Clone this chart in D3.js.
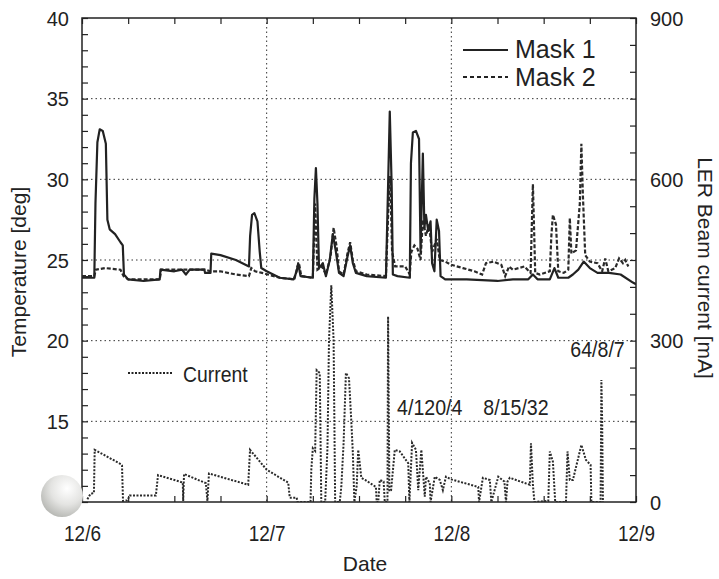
<!DOCTYPE html>
<html>
<head>
<meta charset="utf-8">
<script src="https://cdn.jsdelivr.net/npm/d3@7"></script>
<style>
  body { margin: 0; background: #fff; }
  svg text { font-family: "Liberation Sans", Arial, sans-serif; fill: #222; }
</style>
</head>
<body>
<div id="chart"></div>
<script>
// x values are hours since 12/6 00:00
var dateLabels = ["12/6", "12/7", "12/8", "12/9"];
var dateTicks = [0, 24, 48, 72];
var tempTicks = [10, 15, 20, 25, 30, 35, 40];
var currentTicks = [0, 300, 600, 900];

var mask1 = [[0,23.9],[1.6,23.9],[1.75,28.5],[2.0,32.3],[2.3,33.1],[2.7,33.0],[3.1,32.2],[3.3,27.5],[3.6,26.9],[4.3,26.6],[5.0,26.1],[5.3,25.9],[5.45,24.1],[6,23.8],[8,23.7],[10.1,23.8],[10.2,24.4],[12,24.3],[13,24.4],[13.5,24.1],[14,24.4],[15.9,24.4],[16.0,24.2],[16.7,24.2],[16.8,25.4],[18,25.3],[20,25.0],[21.7,24.6],[21.85,26.5],[22.1,27.8],[22.4,27.9],[22.8,27.4],[23.1,25.5],[23.3,24.5],[24,24.3],[25.7,23.9],[27.5,23.8],[27.9,24.3],[28.1,24.8],[28.4,24.0],[30.0,23.9],[30.2,28.8],[30.4,30.7],[30.6,28.5],[30.8,24.5],[31.3,24.8],[31.7,24.0],[32.2,25.0],[32.6,26.6],[33.0,25.5],[33.4,24.2],[34.0,24.0],[34.5,25.2],[34.85,25.9],[35.2,24.8],[35.6,24.2],[37,24.0],[39.5,23.9],[39.75,29.0],[40.0,34.2],[40.25,29.5],[40.4,24.1],[41,24.0],[42.6,23.9],[42.75,31.0],[43.0,32.9],[43.4,33.0],[43.8,32.5],[44.0,25.5],[44.3,31.6],[44.5,27.0],[44.7,27.8],[45.0,26.8],[45.3,27.4],[45.5,24.8],[45.8,24.3],[46.1,27.5],[46.4,26.8],[46.6,24.0],[47.2,23.8],[50,23.8],[54,23.7],[56,23.8],[58,23.8],[58.6,24.1],[59.2,23.8],[60.8,23.8],[61.4,24.5],[61.9,23.9],[63.2,23.9],[63.8,24.1],[64.5,24.4],[65.2,24.9],[66,24.5],[67,24.2],[68.5,24.2],[70,24.1],[71.6,23.6],[72,23.5]];

var mask2 = [[0,24.0],[1.6,24.0],[1.8,24.4],[3,24.5],[5.0,24.4],[5.4,24.0],[6,23.8],[10.1,23.8],[10.3,24.4],[16,24.4],[16.7,24.3],[18,24.3],[20,24.1],[21.7,24.0],[22.0,24.5],[22.5,24.3],[23.4,24.2],[25.7,23.9],[27.6,23.8],[28.0,24.6],[28.2,24.8],[28.5,24.0],[30.0,23.9],[30.3,28.5],[30.6,24.4],[31.2,24.6],[31.7,24.1],[32.3,25.2],[32.7,27.0],[33.1,25.8],[33.4,24.3],[34.0,24.1],[34.5,25.4],[34.85,26.1],[35.2,25.0],[35.6,24.3],[37,24.1],[39.5,24.0],[39.8,28.0],[40.05,30.2],[40.3,25.5],[40.7,24.6],[42.0,24.6],[42.6,24.1],[42.8,25.5],[43.2,25.9],[43.6,25.7],[44.0,25.0],[44.3,27.5],[44.7,26.5],[45.1,27.2],[45.5,25.5],[46.1,26.3],[46.5,25.0],[47.2,24.9],[48,24.7],[49.5,24.5],[51,24.3],[52,24.1],[52.5,24.8],[53.5,24.9],[54.5,24.7],[55,24.0],[55.5,24.6],[56,24.4],[57.5,24.6],[58.3,24.2],[58.45,27.0],[58.6,29.7],[58.75,27.0],[58.9,24.2],[59.5,24.1],[60.8,24.3],[61.0,26.5],[61.2,27.8],[61.6,27.2],[61.9,24.3],[62.6,24.2],[63.2,24.4],[63.4,27.6],[63.6,25.4],[64.2,25.6],[64.7,28.5],[64.9,32.2],[65.1,29.0],[65.4,25.3],[66,24.9],[67,24.8],[67.6,24.3],[68.0,25.1],[68.4,24.3],[69.3,24.5],[69.8,25.1],[70.3,24.8],[70.6,25.0],[71,24.6]];

var current = [[0.7,5],[1.1,15],[1.55,17],[1.65,97],[5.1,70],[5.2,68],[5.33,2],[5.9,3],[6.2,12],[9.6,12],[9.88,50],[12.7,38],[13.1,36],[13.15,2],[13.26,52],[16.1,35],[16.3,2],[16.5,53],[21.6,32],[21.84,97],[24.0,60],[26.8,36],[27.0,8],[27.9,8],[28.0,0],[29.7,0],[29.8,60],[30.0,100],[30.3,95],[30.5,245],[30.9,240],[31.1,0],[31.6,0],[31.9,100],[32.1,300],[32.4,403],[32.7,300],[32.9,0],[33.5,0],[33.7,28],[34.0,110],[34.3,240],[34.7,230],[35.0,150],[35.2,91],[35.4,0],[35.7,30],[35.9,97],[36.3,45],[36.8,41],[38.2,28],[38.3,0],[38.5,0],[38.7,41],[39.2,38],[39.35,0],[39.7,0],[39.78,345],[39.95,20],[40.17,22],[40.65,97],[41.3,94],[42.4,72],[42.55,0],[42.9,110],[43.4,97],[43.7,22],[44.1,97],[44.55,10],[44.7,47],[45.2,35],[45.3,0],[45.85,47],[46.5,41],[46.9,22],[47.3,47],[48,42],[51.5,28],[51.6,0],[52.1,45],[53,41],[53.2,0],[54.1,47],[54.9,38],[55.1,0],[55.3,38],[55.6,45],[58.2,32],[58.35,109],[58.6,32],[58.8,0],[60.6,2],[60.8,94],[61.2,75],[61.5,0],[62.9,0],[63.1,94],[63.4,41],[63.8,41],[64.9,106],[65.5,78],[66.1,69],[66.2,0],[67.4,0],[67.5,227],[67.6,152],[67.7,0]];

var notes = [
  {text: "4/120/4", h: 45.2, v: 177},
  {text: "8/15/32", h: 56.4, v: 177},
  {text: "64/8/7", h: 67.0, v: 285}
];

var width = 719, height = 579;
var margin = {left: 82, top: 18, right: 83, bottom: 77};
var innerWidth = width - margin.left - margin.right;
var innerHeight = height - margin.top - margin.bottom;

var svg = d3.select("#chart").append("svg")
  .attr("width", width)
  .attr("height", height);

svg.append("rect").attr("width", width).attr("height", height).attr("fill", "#fff");
var defs = svg.append("defs");

var g = svg.append("g")
  .attr("transform", "translate(" + margin.left + "," + margin.top + ")");

var x = d3.scaleLinear().domain([0, 72]).range([0, innerWidth]);
var yT = d3.scaleLinear().domain([10, 40]).range([innerHeight, 0]);
var yI = d3.scaleLinear().domain([0, 900]).range([innerHeight, 0]);

// narrow look of the original lettering
function condense(sel, f) {
  sel.each(function() {
    var w = this.getComputedTextLength();
    if (w > 0) d3.select(this).attr("textLength", w * f).attr("lengthAdjust", "spacingAndGlyphs");
  });
}

// dotted grid
var grid = g.append("g").attr("stroke", "#333").attr("stroke-width", 1).attr("stroke-dasharray", "1.5,3");
grid.selectAll(".hg").data(tempTicks.slice(1, -1)).enter().append("line")
  .attr("x1", 0).attr("x2", innerWidth)
  .attr("y1", d => yT(d)).attr("y2", d => yT(d));
grid.selectAll(".vg").data([24, 48]).enter().append("line")
  .attr("y1", 0).attr("y2", innerHeight)
  .attr("x1", d => x(d)).attr("x2", d => x(d));

// frame
g.append("rect").attr("width", innerWidth).attr("height", innerHeight)
  .attr("fill", "none").attr("stroke", "#222").attr("stroke-width", 1.5);

function styleAxis(sel) {
  sel.attr("font-family", null).attr("font-size", null).attr("fill", null);
  sel.select(".domain").remove();
  sel.selectAll("line").attr("stroke", "#222").attr("stroke-width", 1.2);
  sel.selectAll("text").attr("font-size", 20).attr("fill", "#222");
}
function minorOnly(sel) {
  styleAxis(sel);
  sel.selectAll("text").remove();
}

// inward minor ticks on all four sides
g.append("g").call(d3.axisLeft(yT).tickValues(d3.range(10, 41, 1)).tickSizeInner(-6).tickSizeOuter(0))
  .call(minorOnly);
g.append("g").attr("transform", "translate(" + innerWidth + ",0)")
  .call(d3.axisRight(yI).tickValues(d3.range(0, 901, 50)).tickSizeInner(-6).tickSizeOuter(0))
  .call(minorOnly);
g.append("g")
  .call(d3.axisTop(x).tickValues(d3.range(0, 73, 6)).tickSizeInner(-6).tickSizeOuter(0))
  .call(minorOnly);
g.append("g").attr("transform", "translate(0," + innerHeight + ")")
  .call(d3.axisBottom(x).tickValues(d3.range(0, 73, 6)).tickSizeInner(-6).tickSizeOuter(0))
  .call(minorOnly);

// labelled axes
g.append("g").call(d3.axisLeft(yT).tickValues(tempTicks).tickSize(0).tickPadding(13))
  .call(styleAxis)
  .selectAll("text").attr("dy", null).attr("y", 7);
g.append("g").attr("transform", "translate(" + innerWidth + ",0)")
  .call(d3.axisRight(yI).tickValues(currentTicks).tickSize(0).tickPadding(14))
  .call(styleAxis)
  .selectAll("text").attr("dy", null).attr("y", 7);
g.append("g").attr("transform", "translate(0," + innerHeight + ")")
  .call(d3.axisBottom(x).tickValues(dateTicks).tickSize(0).tickPadding(22).tickFormat((d, i) => dateLabels[i]))
  .call(styleAxis)
  .selectAll("text").attr("font-size", 22).attr("dy", null).attr("y", 39)
  .call(condense, 0.86);

// series
defs.append("clipPath").attr("id", "clip")
  .append("rect").attr("width", innerWidth).attr("height", innerHeight);
var plot = g.append("g").attr("clip-path", "url(#clip)");

var lineT = d3.line().x(d => x(d[0])).y(d => yT(d[1]));
var lineI = d3.line().x(d => x(d[0])).y(d => yI(d[1]));

plot.append("path").datum(current).attr("d", lineI)
  .attr("fill", "none").attr("stroke", "#2a2a2a").attr("stroke-width", 2)
  .attr("stroke-dasharray", "2,1.5");
plot.append("path").datum(mask2).attr("d", lineT)
  .attr("fill", "none").attr("stroke", "#2a2a2a").attr("stroke-width", 2.2)
  .attr("stroke-dasharray", "4,2");
plot.append("path").datum(mask1).attr("d", lineT)
  .attr("fill", "none").attr("stroke", "#222").attr("stroke-width", 2.2)
  .attr("stroke-linejoin", "round");

// legends
var leg = g.append("g");
leg.append("line").attr("x1", 381).attr("x2", 426).attr("y1", 32).attr("y2", 32)
  .attr("stroke", "#222").attr("stroke-width", 2);
leg.append("text").attr("x", 433).attr("y", 40).attr("font-size", 25).text("Mask 1");
leg.append("line").attr("x1", 381).attr("x2", 426).attr("y1", 59).attr("y2", 59)
  .attr("stroke", "#222").attr("stroke-width", 2).attr("stroke-dasharray", "4,3");
leg.append("text").attr("x", 433).attr("y", 68).attr("font-size", 25).text("Mask 2");

leg.append("line").attr("x1", 46).attr("x2", 90).attr("y1", 355).attr("y2", 355)
  .attr("stroke", "#222").attr("stroke-width", 2).attr("stroke-dasharray", "2,1.5");
leg.append("text").attr("x", 101).attr("y", 364).attr("font-size", 22).text("Current")
  .call(condense, 0.88);

g.selectAll(".note").data(notes).enter().append("text")
  .attr("x", d => x(d.h)).attr("y", d => yI(d.v) + 8)
  .attr("text-anchor", "middle").attr("font-size", 22)
  .text(d => d.text)
  .call(condense, 0.89);

// axis titles
svg.append("text").attr("transform", "translate(26,272) rotate(-90)")
  .attr("text-anchor", "middle").attr("font-size", 21).text("Temperature [deg]");
svg.append("text").attr("transform", "translate(698,268) rotate(90)")
  .attr("text-anchor", "middle").attr("font-size", 21).text("LER Beam current [mA]");
svg.append("text").attr("x", 365).attr("y", 571)
  .attr("text-anchor", "middle").attr("font-size", 21).text("Date");

// scanned-page ball in the corner
var grad = defs.append("radialGradient").attr("id", "ball")
  .attr("cx", "0.62").attr("cy", "0.32").attr("r", "0.7");
grad.append("stop").attr("offset", "0").attr("stop-color", "#ffffff");
grad.append("stop").attr("offset", "0.55").attr("stop-color", "#e4e4e2");
grad.append("stop").attr("offset", "1").attr("stop-color", "#b9bab6");
svg.append("circle").attr("cx", 62).attr("cy", 496).attr("r", 21).attr("fill", "url(#ball)");
</script>
</body>
</html>
